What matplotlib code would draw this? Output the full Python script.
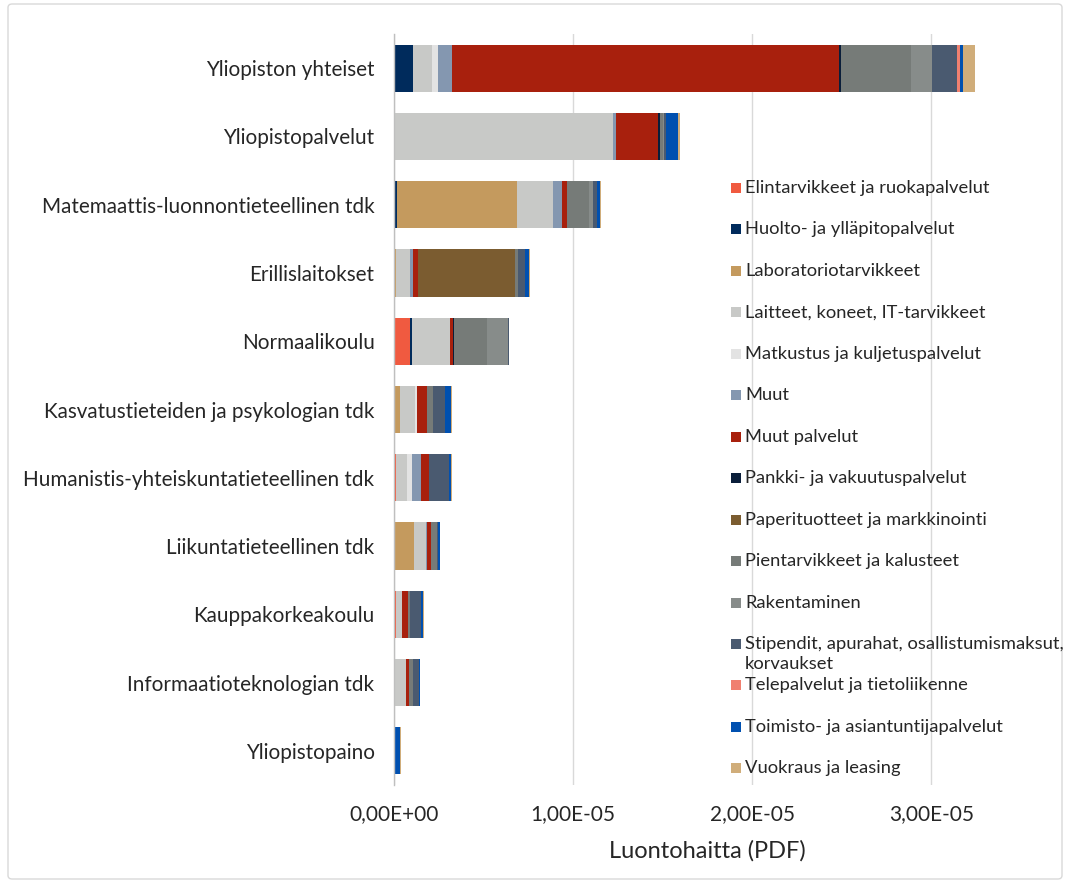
import matplotlib
matplotlib.use("Agg")
import matplotlib.pyplot as plt
from matplotlib.patches import Rectangle, FancyBboxPatch
from matplotlib.ticker import FuncFormatter, MultipleLocator
import numpy as np

plt.rcParams['font.family'] = ['Lato', 'DejaVu Sans']

units = [
    "Yliopiston yhteiset",
    "Yliopistopalvelut",
    "Matemaattis-luonnontieteellinen tdk",
    "Erillislaitokset",
    "Normaalikoulu",
    "Kasvatustieteiden ja psykologian tdk",
    "Humanistis-yhteiskuntatieteellinen tdk",
    "Liikuntatieteellinen tdk",
    "Kauppakorkeakoulu",
    "Informaatioteknologian tdk",
    "Yliopistopaino",
]

categories = [
    "Elintarvikkeet ja ruokapalvelut",
    "Huolto- ja ylläpitopalvelut",
    "Laboratoriotarvikkeet",
    "Laitteet, koneet, IT-tarvikkeet",
    "Matkustus ja kuljetuspalvelut",
    "Muut",
    "Muut palvelut",
    "Pankki- ja vakuutuspalvelut",
    "Paperituotteet ja markkinointi",
    "Pientarvikkeet ja kalusteet",
    "Rakentaminen",
    "Stipendit, apurahat, osallistumismaksut,\nkorvaukset",
    "Telepalvelut ja tietoliikenne",
    "Toimisto- ja asiantuntijapalvelut",
    "Vuokraus ja leasing",
]

colors = [
    "#F05A40", "#002B5C", "#C49A5E", "#C8C9C7", "#E3E3E3",
    "#8497B0", "#A8200D", "#0A1E3A", "#7B5C30", "#767B78",
    "#878C8A", "#4A5A70", "#F08070", "#0050B0", "#D0AD7A",
]

# Values in units of 1e-6 PDF, one list per category (order of units)
elintarvikkeet = [0.05, 0.00, 0.07, 0.00, 0.87, 0.00, 0.12, 0.00, 0.09, 0.00, 0.00]
huolto         = [1.00, 0.00, 0.09, 0.00, 0.13, 0.00, 0.00, 0.00, 0.00, 0.00, 0.00]
laboratorio    = [0.00, 0.00, 6.70, 0.09, 0.00, 0.33, 0.00, 1.11, 0.00, 0.00, 0.00]
laitteet       = [1.06, 12.20, 2.02, 0.78, 2.15, 0.87, 0.58, 0.67, 0.35, 0.65, 0.07]
matkustus      = [0.36, 0.00, 0.00, 0.00, 0.00, 0.06, 0.32, 0.00, 0.00, 0.00, 0.00]
muut           = [0.77, 0.22, 0.50, 0.19, 0.00, 0.00, 0.50, 0.07, 0.00, 0.00, 0.00]
muut_palvelut  = [21.60, 2.34, 0.30, 0.26, 0.13, 0.56, 0.46, 0.24, 0.32, 0.19, 0.00]
pankki         = [0.10, 0.11, 0.00, 0.00, 0.07, 0.00, 0.00, 0.00, 0.00, 0.00, 0.00]
paperi         = [0.00, 0.00, 0.00, 5.44, 0.00, 0.00, 0.00, 0.00, 0.00, 0.00, 0.00]
pientarvikkeet = [3.90, 0.15, 1.19, 0.19, 1.82, 0.37, 0.00, 0.32, 0.11, 0.24, 0.00]
rakentaminen   = [1.17, 0.07, 0.24, 0.00, 1.20, 0.00, 0.00, 0.00, 0.00, 0.00, 0.00]
stipendit      = [1.43, 0.08, 0.22, 0.37, 0.06, 0.63, 1.09, 0.07, 0.63, 0.30, 0.00]
telepalvelut   = [0.15, 0.00, 0.00, 0.00, 0.00, 0.00, 0.00, 0.00, 0.00, 0.00, 0.00]
toimisto       = [0.17, 0.70, 0.15, 0.19, 0.00, 0.35, 0.11, 0.07, 0.13, 0.07, 0.28]
vuokraus       = [0.68, 0.11, 0.05, 0.09, 0.00, 0.06, 0.05, 0.00, 0.04, 0.00, 0.05]

series = [elintarvikkeet, huolto, laboratorio, laitteet, matkustus, muut,
          muut_palvelut, pankki, paperi, pientarvikkeet, rakentaminen,
          stipendit, telepalvelut, toimisto, vuokraus]

W, H = 1070, 883
fig = plt.figure(figsize=(W / 100, H / 100), dpi=100)
fig.patch.set_facecolor("white")

ax = fig.add_axes([394 / W, 1 - 785 / H, 609 / W, 751 / H])
y = np.arange(len(units))
left = np.zeros(len(units))
for vals, col in zip(series, colors):
    v = np.array(vals) * 1e-6
    ax.barh(y, v, left=left, height=0.69, color=col, linewidth=0, zorder=3)
    left += v

ax.set_ylim(len(units) - 0.5, -0.5)
ax.set_xlim(0, 3.4e-5)
ax.xaxis.set_major_locator(MultipleLocator(1e-5))
ax.xaxis.set_major_formatter(FuncFormatter(lambda v, p: f"{v:.2E}".replace(".", ",")))
ax.grid(axis="x", color="#D9D9D9", linewidth=1.0, zorder=0)
ax.set_axisbelow(True)
for s in ["top", "right", "bottom"]:
    ax.spines[s].set_visible(False)
ax.spines["left"].set_color("#BFBFBF")
ax.spines["left"].set_linewidth(1.0)
ax.spines["left"].set_zorder(4)
ax.set_yticks(y)
ax.set_yticklabels(units)
ax.tick_params(axis="y", length=0, pad=14, labelsize=14.9, labelcolor="#262626")
ax.tick_params(axis="x", length=0, pad=14, labelsize=15, labelcolor="#262626")

fig.text(707 / W, 1 - 851 / H, "Luontohaitta (PDF)", ha="center", va="center",
         fontsize=17, color="#262626")

# Legend drawn entry by entry
leg_y0, leg_dy = 188, 41.45
for i, (lab, col) in enumerate(zip(categories, colors)):
    yc = leg_y0 + i * leg_dy
    fig.patches.append(Rectangle(((731) / W, 1 - (yc + 5) / H), 10 / W, 10 / H,
                                 transform=fig.transFigure, facecolor=col,
                                 edgecolor="none", figure=fig))
    lines = lab.split("\n")
    for j, ln in enumerate(lines):
        fig.text(745 / W, 1 - (yc + j * 20) / H, ln, ha="left", va="center",
                 fontsize=13.25, color="#262626")

# Chart frame
fig.patches.append(FancyBboxPatch((8 / W, 4 / H), 1054 / W, 875 / H,
                                  boxstyle="round,pad=0,rounding_size=0.004",
                                  transform=fig.transFigure, facecolor="none",
                                  edgecolor="#D9D9D9", linewidth=1.0, figure=fig))

fig.savefig("out.png", dpi=100)
